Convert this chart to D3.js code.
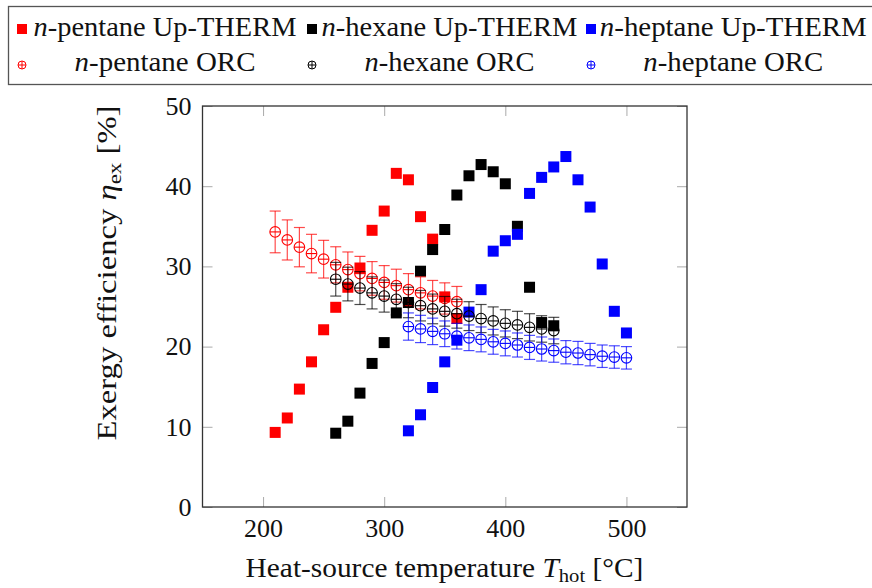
<!DOCTYPE html>
<html>
<head>
<meta charset="utf-8">
<script src="https://cdn.jsdelivr.net/npm/d3@7/dist/d3.min.js"></script>
<style>
  body { margin: 0; background: #fff; }
  svg { display: block; }
  text { font-family: "Liberation Serif", "DejaVu Serif", serif; fill: #111; }
</style>
</head>
<body>
<svg id="canvas"></svg>
<script>
// heat-source temperatures for each fluid [°C]
const tPentane = [210, 220, 230, 240, 250, 260, 270, 280, 290, 300, 310, 320, 330, 340, 350, 360];
const tHexane = [260, 270, 280, 290, 300, 310, 320, 330, 340, 350, 360, 370, 380, 390, 400, 410, 420, 430, 440];
const tHeptane = [320, 330, 340, 350, 360, 370, 380, 390, 400, 410, 420, 430, 440, 450, 460, 470, 480, 490, 500];

// Up-THERM exergy efficiency [%]
const upPentane = [9.3, 11.1, 14.7, 18.1, 22.1, 24.9, 27.4, 29.8, 34.5, 36.9, 41.6, 40.8, 36.2, 33.4, 26.2, 23.5];
const upHexane = [9.2, 10.7, 14.2, 17.9, 20.5, 24.2, 25.5, 29.4, 32.1, 34.6, 38.9, 41.3, 42.7, 41.8, 40.3, 35.0, 27.4, 23.0, 22.6];
const upHeptane = [9.5, 11.5, 14.9, 18.1, 20.8, 24.3, 27.1, 31.9, 33.2, 34.0, 39.1, 41.1, 42.4, 43.7, 40.8, 37.4, 30.3, 24.4, 21.7];

// ORC exergy efficiency [%] and error bar half-heights
const orcPentane = [34.3, 33.3, 32.4, 31.6, 30.9, 30.2, 29.6, 29.1, 28.5, 28.0, 27.6, 27.1, 26.7, 26.3, 26.0, 25.6];
const errPentane = [2.6, 2.5, 2.45, 2.4, 2.35, 2.25, 2.2, 2.15, 2.1, 2.1, 2.05, 2.0, 2.0, 1.95, 1.95, 1.9];
const orcHexane = [28.4, 27.8, 27.3, 26.7, 26.3, 25.9, 25.5, 25.1, 24.7, 24.4, 24.1, 23.8, 23.5, 23.2, 22.9, 22.7, 22.4, 22.2, 22.0];
const errHexane = [2.1, 2.1, 2.05, 2.0, 2.0, 1.95, 1.9, 1.9, 1.85, 1.85, 1.8, 1.8, 1.75, 1.75, 1.7, 1.7, 1.7, 1.65, 1.65];
const orcHeptane = [22.5, 22.2, 21.9, 21.6, 21.3, 21.1, 20.9, 20.6, 20.4, 20.2, 19.9, 19.7, 19.5, 19.3, 19.2, 19.0, 18.8, 18.7, 18.6];
const errHeptane = [1.7, 1.7, 1.65, 1.6, 1.6, 1.6, 1.55, 1.55, 1.55, 1.5, 1.5, 1.5, 1.45, 1.45, 1.45, 1.4, 1.4, 1.4, 1.4];

const xTicks = [200, 300, 400, 500];
const yTicks = [0, 10, 20, 30, 40, 50];

const fluids = ["pentane", "hexane", "heptane"];
const colors = ["#ff0000", "#000000", "#0000ff"];

const width = 872;
const height = 588;
const serif = "'Liberation Serif', 'DejaVu Serif', serif";

let canvas = d3.select("#canvas").attr("width", width).attr("height", height);

let x = d3.scaleLinear().domain([150, 550]).range([202.5, 687]);
let y = d3.scaleLinear().domain([0, 50]).range([507, 106]);

// build series tables
let upSeries = [
  tPentane.map((t, i) => ({ t: t, v: upPentane[i] })),
  tHexane.map((t, i) => ({ t: t, v: upHexane[i] })),
  tHeptane.map((t, i) => ({ t: t, v: upHeptane[i] }))
];
let orcSeries = [
  tPentane.map((t, i) => ({ t: t, v: orcPentane[i], e: errPentane[i] })),
  tHexane.map((t, i) => ({ t: t, v: orcHexane[i], e: errHexane[i] })),
  tHeptane.map((t, i) => ({ t: t, v: orcHeptane[i], e: errHeptane[i] }))
];

// the reference uses a wider (Palatino-like) face: stretch text to its width
let fitText = (textSel, cx, cy, target, rotate) => {
  let w = textSel.node().getComputedTextLength();
  let s = target / w;
  textSel.attr("transform",
    "translate(" + cx + "," + cy + ")" + (rotate ? " rotate(-90)" : "") + " scale(" + s + ",1)");
};

let drawAxes = () => {
  let tickStyle = (g) => {
    g.select(".domain").remove();
    g.selectAll(".tick line").attr("stroke", "#aaa").attr("stroke-width", 1);
    g.selectAll(".tick text")
      .attr("font-family", serif)
      .style("font-family", serif)
      .style("font-size", "26px")
      .attr("fill", "#111");
  };

  canvas.append("g")
    .attr("transform", "translate(0,507)")
    .call(d3.axisBottom(x).tickValues(xTicks).tickSize(-10).tickPadding(12).tickFormat(d3.format("d")))
    .call(tickStyle);
  canvas.append("g")
    .attr("transform", "translate(0,106)")
    .call(d3.axisTop(x).tickValues(xTicks).tickSize(-10).tickFormat(""))
    .call(tickStyle);
  canvas.append("g")
    .attr("transform", "translate(202.5,0)")
    .call(d3.axisLeft(y).tickValues(yTicks).tickSize(-10).tickPadding(11).tickFormat(d3.format("d")))
    .call(tickStyle);
  canvas.append("g")
    .attr("transform", "translate(687,0)")
    .call(d3.axisRight(y).tickValues(yTicks).tickSize(-10).tickFormat(""))
    .call(tickStyle);

  canvas.append("rect")
    .attr("x", 202.5).attr("y", 106)
    .attr("width", 687 - 202.5).attr("height", 507 - 106)
    .attr("fill", "none").attr("stroke", "#333").attr("stroke-width", 1.3);

  // axis titles
  let xt = canvas.append("text")
    .attr("text-anchor", "middle").style("font-size", "27px");
  xt.append("tspan").text("Heat-source temperature ");
  xt.append("tspan").style("font-style", "italic").text("T");
  xt.append("tspan").attr("dy", 5).style("font-size", "19px").text("hot");
  xt.append("tspan").attr("dy", -5).text(" [°C]");
  fitText(xt, 444.5, 577, 398, false);

  let yt = canvas.append("text")
    .attr("text-anchor", "middle").style("font-size", "27px");
  yt.append("tspan").text("Exergy efficiency ");
  yt.append("tspan").style("font-style", "italic").text("η");
  yt.append("tspan").attr("dy", 5).style("font-size", "19px").text("ex");
  yt.append("tspan").attr("dy", -5).text(" [%]");
  fitText(yt, 116, 273, 335, true);
};

let drawMarks = () => {
  let sq = 11;
  upSeries.forEach((series, k) => {
    canvas.append("g")
      .selectAll("rect")
      .data(series)
      .enter()
      .append("rect")
      .attr("x", (d) => x(d.t) - sq / 2)
      .attr("y", (d) => y(d.v) - sq / 2)
      .attr("width", sq)
      .attr("height", sq)
      .attr("fill", colors[k]);
  });

  orcSeries.forEach((series, k) => {
    let g = canvas.append("g").attr("stroke", colors[k]).attr("fill", "none");
    let pt = g.selectAll("g").data(series).enter().append("g");
    // error bars
    pt.append("line")
      .attr("x1", (d) => x(d.t)).attr("x2", (d) => x(d.t))
      .attr("y1", (d) => y(d.v - d.e)).attr("y2", (d) => y(d.v + d.e))
      .attr("stroke-opacity", 0.7).attr("stroke-width", 1.2);
    [-1, 1].forEach((s) => {
      pt.append("line")
        .attr("x1", (d) => x(d.t) - 5.5).attr("x2", (d) => x(d.t) + 5.5)
        .attr("y1", (d) => y(d.v + s * d.e)).attr("y2", (d) => y(d.v + s * d.e))
        .attr("stroke-opacity", 0.7).attr("stroke-width", 1.2);
    });
    // circle with plus
    pt.append("circle")
      .attr("cx", (d) => x(d.t)).attr("cy", (d) => y(d.v)).attr("r", 5.3)
      .attr("stroke-width", 1.1);
    pt.append("line")
      .attr("x1", (d) => x(d.t) - 5.3).attr("x2", (d) => x(d.t) + 5.3)
      .attr("y1", (d) => y(d.v)).attr("y2", (d) => y(d.v))
      .attr("stroke-width", 1.1);
  });
};

let drawLegend = () => {
  let legend = canvas.append("g");
  legend.append("rect")
    .attr("x", 8.5).attr("y", 6.5).attr("width", 900).attr("height", 78)
    .attr("fill", "#fff").attr("stroke", "#555").attr("stroke-width", 1.3);

  let markerX = [22, 312, 591];
  let textX = [165, 449.5, 733.3];
  let upWidth = [263, 256, 267];
  let orcWidth = [181, 170, 180];

  fluids.forEach((f, k) => {
    legend.append("rect")
      .attr("x", markerX[k] - 5).attr("y", 24)
      .attr("width", 10).attr("height", 10)
      .attr("fill", colors[k]);
    let t1 = legend.append("text")
      .attr("text-anchor", "middle").style("font-size", "27px");
    t1.append("tspan").style("font-style", "italic").text("n");
    t1.append("tspan").text("-" + f + " Up-THERM");
    fitText(t1, textX[k], 36, upWidth[k], false);

    let mk = legend.append("g").attr("stroke", colors[k]).attr("fill", "none").attr("stroke-width", 1);
    mk.append("circle").attr("cx", markerX[k]).attr("cy", 65).attr("r", 4);
    mk.append("line").attr("x1", markerX[k] - 4).attr("x2", markerX[k] + 4).attr("y1", 65).attr("y2", 65);
    mk.append("line").attr("x1", markerX[k]).attr("x2", markerX[k]).attr("y1", 61).attr("y2", 69);
    let t2 = legend.append("text")
      .attr("text-anchor", "middle").style("font-size", "27px");
    t2.append("tspan").style("font-style", "italic").text("n");
    t2.append("tspan").text("-" + f + " ORC");
    fitText(t2, textX[k], 71, orcWidth[k], false);
  });
};

drawAxes();
drawMarks();
drawLegend();
</script>
</body>
</html>
